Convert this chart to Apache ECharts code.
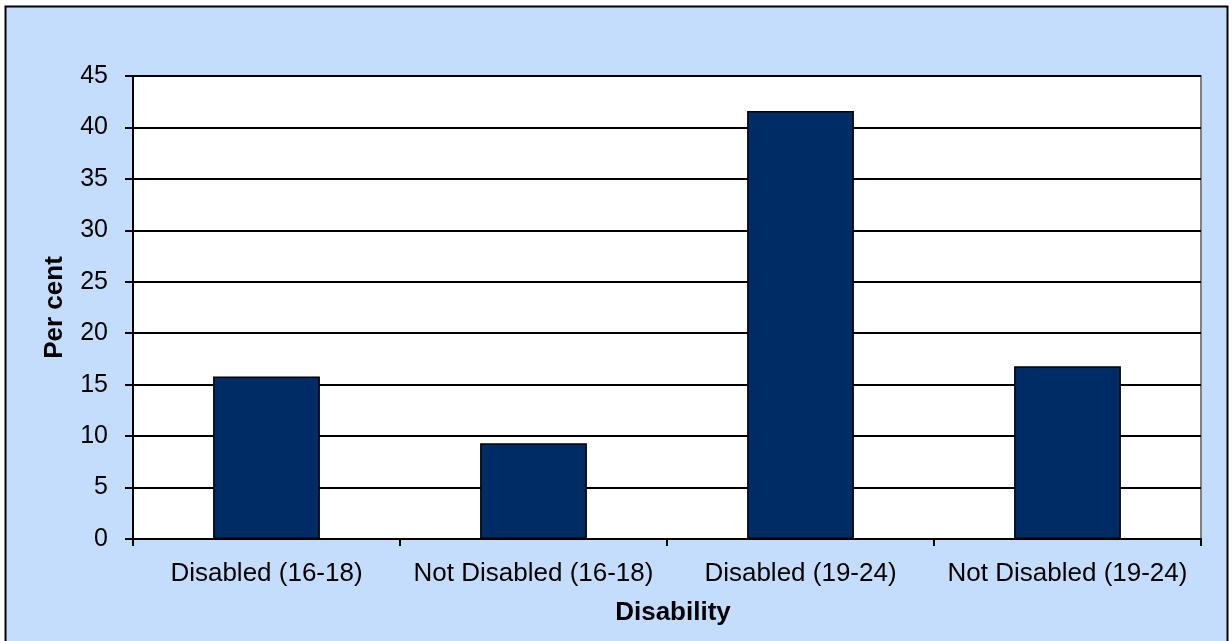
<!DOCTYPE html>
<html>
<head>
<meta charset="utf-8">
<script src="https://cdn.jsdelivr.net/npm/echarts@6/dist/echarts.min.js"></script>
<style>
html,body{margin:0;padding:0;background:#ffffff;}
#main{width:1232px;height:641px;}
</style>
</head>
<body>
<div id="main"></div>
<script>
const categories = ['Disabled (16-18)', 'Not Disabled (16-18)', 'Disabled (19-24)', 'Not Disabled (19-24)'];
const values = [15.8, 9.3, 41.6, 16.8];
const yTicks = [0, 5, 10, 15, 20, 25, 30, 35, 40, 45];

const chart = echarts.init(document.getElementById('main'), null, {renderer: 'canvas'});
const font = '"Liberation Sans", Arial, sans-serif';
chart.setOption({
  animation: false,
  backgroundColor: '#ffffff',
  graphic: [{
    type: 'rect', z: -10, silent: true,
    shape: {x: 5.5, y: 6.5, width: 1222, height: 660},
    style: {fill: '#C4DDFC', stroke: '#000000', lineWidth: 2}
  }, {
    type: 'rect', z: -5, silent: true,
    shape: {x: 133, y: 76, width: 1068, height: 463},
    style: {fill: '#ffffff', stroke: '#808080', lineWidth: 2}
  }],
  grid: {left: 133, top: 76, right: 31, bottom: 102, containLabel: false},
  xAxis: {
    type: 'category',
    data: categories,
    name: 'Disability',
    nameLocation: 'middle',
    nameGap: 61,
    nameTextStyle: {fontFamily: font, fontSize: 26, fontWeight: 'bold', color: '#000', padding: [0, 0, 0, 12]},
    axisLine: {lineStyle: {color: '#000', width: 2}},
    axisTick: {show: true, alignWithLabel: false, length: 7, lineStyle: {color: '#000', width: 2}},
    axisLabel: {fontFamily: font, fontSize: 26, color: '#000', margin: 22, interval: 0},
    splitLine: {show: false}
  },
  yAxis: {
    type: 'value',
    min: 0, max: 45, interval: 5,
    name: 'Per cent',
    nameLocation: 'middle',
    nameGap: 65,
    nameTextStyle: {fontFamily: font, fontSize: 26, fontWeight: 'bold', color: '#000'},
    axisLine: {show: true, lineStyle: {color: '#000', width: 2}},
    axisTick: {show: true, length: 8, lineStyle: {color: '#000', width: 2}},
    axisLabel: {fontFamily: font, fontSize: 25, color: '#000', margin: 25,
      formatter: v => yTicks.includes(v) ? String(v) : ''},
    splitLine: {show: true, lineStyle: {color: '#000', width: 2}}
  },
  series: [{
    type: 'bar',
    data: values,
    barWidth: '40%',
    itemStyle: {color: '#002C66', borderColor: '#000', borderWidth: 1.5},
    z: 3
  }]
});
</script>
</body>
</html>
